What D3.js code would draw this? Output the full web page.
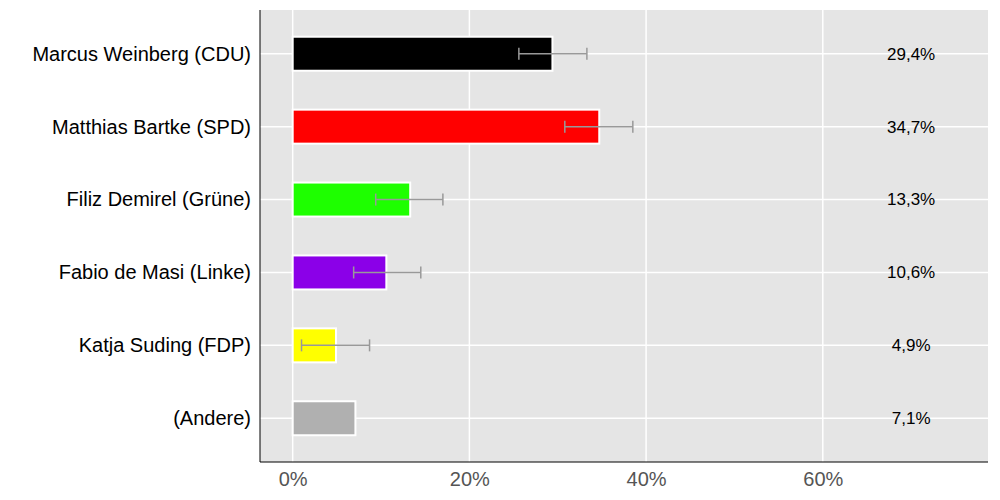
<!DOCTYPE html>
<html><head><meta charset="utf-8">
<script src="https://cdn.jsdelivr.net/npm/d3@7"></script>
<style>body{margin:0;background:#fff;font-family:"Liberation Sans",Arial,sans-serif}</style>
</head><body><svg id="chart" width="1000" height="500"></svg>
<script>
// data
var candidates = ["Marcus Weinberg (CDU)", "Matthias Bartke (SPD)", "Filiz Demirel (Grüne)", "Fabio de Masi (Linke)", "Katja Suding (FDP)", "(Andere)"];
var shares = [29.4, 34.7, 13.3, 10.6, 4.9, 7.1];
var errLow = [25.6, 30.8, 9.4, 6.9, 1.0, null];
var errHigh = [33.3, 38.5, 17.0, 14.5, 8.7, null];
var colors = ["#000000", "#ff0000", "#1eff00", "#8b00e8", "#ffff00", "#b0b0b0"];
var xTicks = [0, 20, 40, 60];

var margin = {top: 10, right: 12, bottom: 38, left: 260};
var width = 1000 - margin.left - margin.right;
var height = 500 - margin.top - margin.bottom;
var barH = 34;

var svg = d3.select("#chart");
var g = svg.append("g").attr("transform", "translate(" + margin.left + "," + margin.top + ")");

var x = d3.scaleLinear().domain([-3.7, 78.7]).range([0, width]);
var y = d3.scalePoint().domain(candidates).range([0, height]).padding(0.6);

g.append("rect").attr("width", width).attr("height", height).attr("fill", "#e5e5e5");

// grid
g.selectAll(".vg").data(xTicks).enter().append("line")
    .attr("x1", function (d) { return x(d); }).attr("x2", function (d) { return x(d); })
    .attr("y1", 0).attr("y2", height).attr("stroke", "#fff").attr("stroke-width", 1.5);
g.selectAll(".hg").data(candidates).enter().append("line")
    .attr("x1", 0).attr("x2", width)
    .attr("y1", function (d) { return y(d); })
    .attr("y2", function (d) { return y(d); })
    .attr("stroke", "#fff").attr("stroke-width", 1.5);

// bars
g.selectAll(".bar").data(candidates).enter().append("rect")
    .attr("x", x(0)).attr("y", function (d) { return y(d) - barH / 2; })
    .attr("width", function (d, i) { return x(shares[i]) - x(0); })
    .attr("height", barH)
    .attr("fill", function (d, i) { return colors[i]; })
    .attr("stroke", "#fff").attr("stroke-width", 2);

// error bars
candidates.forEach(function (c, i) {
    if (errLow[i] === null) return;
    var cy = y(c);
    var eg = g.append("g").attr("stroke", "#999").attr("stroke-width", 1.5);
    eg.append("line").attr("x1", x(errLow[i])).attr("x2", x(errHigh[i])).attr("y1", cy).attr("y2", cy);
    eg.append("line").attr("x1", x(errLow[i])).attr("x2", x(errLow[i])).attr("y1", cy - 6).attr("y2", cy + 6);
    eg.append("line").attr("x1", x(errHigh[i])).attr("x2", x(errHigh[i])).attr("y1", cy - 6).attr("y2", cy + 6);
});

// value labels
g.selectAll(".lbl").data(candidates).enter().append("text")
    .attr("x", x(70)).attr("y", function (d) { return y(d); })
    .attr("dy", "0.35em").attr("text-anchor", "middle").attr("font-size", 17)
    .text(function (d, i) { return shares[i].toFixed(1).replace(".", ",") + "%"; });

// axes
var xAxis = d3.axisBottom(x).tickValues(xTicks).tickSize(0).tickPadding(10)
    .tickFormat(function (d) { return d + "%"; });
var xg = g.append("g").attr("transform", "translate(0," + height + ")").call(xAxis);
xg.select(".domain").remove();
xg.selectAll("text").attr("font-size", 20).attr("fill", "#555").attr("font-family", "Liberation Sans, Arial, sans-serif");

var yAxis = d3.axisLeft(y).tickSize(0).tickPadding(9);
var yg = g.append("g").call(yAxis);
yg.select(".domain").remove();
yg.selectAll("text").attr("font-size", 20).attr("fill", "#000").attr("font-family", "Liberation Sans, Arial, sans-serif");

g.append("line").attr("x1", 0).attr("x2", 0).attr("y1", 0).attr("y2", height).attr("stroke", "#000");
g.append("line").attr("x1", 0).attr("x2", width).attr("y1", height).attr("y2", height).attr("stroke", "#000");
</script></body></html>
